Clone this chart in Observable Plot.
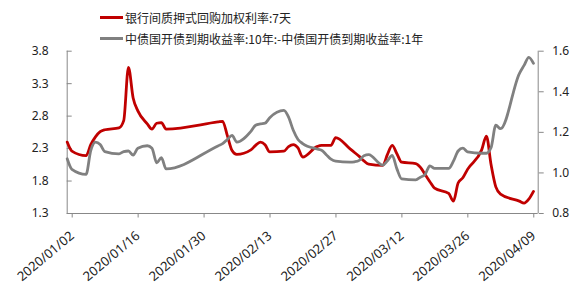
<!DOCTYPE html>
<html><head><meta charset="utf-8">
<script src="https://cdn.jsdelivr.net/npm/d3@7"></script>
<script src="https://cdn.jsdelivr.net/npm/@observablehq/plot@0.6"></script>
<style>
body{margin:0;background:#fff;}
#legend{position:relative;height:34px;width:576px;font-family:"Noto Sans CJK SC","Noto Sans",sans-serif;}
#chart{position:relative;}
#chart svg{display:block;}
.item{position:absolute;left:100px;height:18px;display:flex;align-items:center;font-size:12px;color:#222;white-space:nowrap;z-index:2;}
.sw{width:23px;height:3px;margin-right:2px;}
</style></head><body>
<div id="legend"></div>
<div id="chart"></div>
<script>
const seriesNames = ["银行间质押式回购加权利率:7天", "中债国开债到期收益率:10年:-中债国开债到期收益率:1年"];
const seriesColors = ["#C00000", "#808080"];
const dates = [
"2020-01-02","2020-01-03","2020-01-06","2020-01-07","2020-01-08","2020-01-09","2020-01-10",
"2020-01-13","2020-01-14","2020-01-15","2020-01-16","2020-01-17","2020-01-19","2020-01-20","2020-01-21","2020-01-22","2020-01-23",
"2020-02-03","2020-02-04","2020-02-05","2020-02-06","2020-02-07",
"2020-02-10","2020-02-11","2020-02-12","2020-02-13","2020-02-14",
"2020-02-17","2020-02-18","2020-02-19","2020-02-20","2020-02-21",
"2020-02-24","2020-02-25","2020-02-26","2020-02-27","2020-02-28",
"2020-03-02","2020-03-03","2020-03-04","2020-03-05","2020-03-06",
"2020-03-09","2020-03-10","2020-03-11","2020-03-12","2020-03-13",
"2020-03-16","2020-03-17","2020-03-18","2020-03-19","2020-03-20",
"2020-03-23","2020-03-24","2020-03-25","2020-03-26","2020-03-27",
"2020-03-30","2020-03-31","2020-04-01","2020-04-02","2020-04-03",
"2020-04-07","2020-04-08","2020-04-09","2020-04-10"];
const repo7d = [
2.40,2.26,2.19,2.36,2.48,2.56,2.59,
2.62,2.73,3.55,3.08,2.88,2.68,2.60,2.69,2.70,2.60,
2.71,2.72,2.50,2.27,2.21,
2.28,2.35,2.40,2.36,2.25,
2.26,2.33,2.36,2.31,2.17,
2.33,2.35,2.35,2.35,2.47,
2.30,2.24,2.18,2.11,2.06,
2.04,2.21,2.35,2.22,2.09,
2.07,2.01,1.90,1.79,1.69,
1.61,1.49,1.77,1.85,1.98,
2.28,2.49,2.05,1.71,1.60,
1.49,1.46,1.52,1.64];
const spread10y1y = [
1.070,1.018,0.993,1.110,1.152,1.140,1.105,
1.094,1.105,1.108,1.088,1.122,1.134,1.122,1.050,1.075,1.020,
1.133,1.144,1.165,1.185,1.152,
1.205,1.235,1.242,1.245,1.272,
1.308,1.275,1.210,1.165,1.145,
1.118,1.112,1.090,1.068,1.058,
1.053,1.055,1.062,1.085,1.090,
1.038,1.060,1.086,1.020,0.971,
0.966,0.979,0.993,1.035,1.022,
1.022,1.058,1.108,1.122,1.104,
1.097,1.097,1.125,1.235,1.218,
1.490,1.530,1.570,1.540];
const xTicks = ["2020/01/02","2020/01/16","2020/01/30","2020/02/13","2020/02/27","2020/03/12","2020/03/26","2020/04/09"];
const xDomain = ["2020/01/02","2020/04/11"];
const leftTicks = [1.3,1.8,2.3,2.8,3.3,3.8];
const rightTicks = [0.8,1.0,1.2,1.4,1.6];

// legend
const leg = document.getElementById("legend");
const legendTops = [8.7, 29.3];
seriesNames.forEach((n,i)=>{
  const it = document.createElement("div");
  it.className="item"; it.style.top = legendTops[i]+"px";
  const sw = document.createElement("span"); sw.className="sw"; sw.style.background = seriesColors[i];
  const tx = document.createElement("span"); tx.textContent = n;
  it.appendChild(sw); it.appendChild(tx); leg.appendChild(it);
});

const parse = d3.utcParse("%Y-%m-%d");
const parseT = d3.utcParse("%Y/%m/%d");
const rows = dates.map((d,i)=>({date: parse(d), repo: repo7d[i], spread: spread10y1y[i]}));
const [l0,l1] = [leftTicks[0], leftTicks[leftTicks.length-1]];
const [r0,r1] = [rightTicks[0], rightTicks[rightTicks.length-1]];
const toLeft = v => l0 + (v - r0) * (l1 - l0) / (r1 - r0);
const dom = xDomain.map(parseT);
const axisColor = "#888888";

const chart = Plot.plot({
  width: 576, height: 254,
  marginTop: 16.7, marginBottom: 75, marginLeft: 66.7, marginRight: 38.3,
  style: {fontFamily: "'Noto Sans', sans-serif", fontSize: "12px", background: "transparent", color: "#222"},
  x: {type: "utc", domain: dom},
  y: {domain: [l0, l1]},
  marks: [
    Plot.ruleY([l0], {stroke: axisColor}),
    Plot.ruleX([dom[0]], {stroke: axisColor}),
    Plot.ruleX([dom[1]], {stroke: axisColor}),
    Plot.axisY({anchor: "left", ticks: leftTicks, tickFormat: d3.format(".1f"), tickSize: -5, tickPadding: 23.5, stroke: axisColor, fill: "#222", label: null}),
    Plot.axisY({anchor: "right", ticks: rightTicks.map(toLeft), tickFormat: (d) => d3.format(".1f")(r0 + (d - l0) * (r1 - r0) / (l1 - l0)), tickSize: 5, tickPadding: 9, stroke: axisColor, fill: "#222", label: null}),
    Plot.axisX({ticks: xTicks.map(parseT), tickFormat: d3.utcFormat("%Y/%m/%d"), tickSize: 4.5, tickPadding: 16, tickRotate: -40, dx: 5, fontSize: 13, stroke: axisColor, fill: "#222", label: null}),
    Plot.line(rows, {x: "date", y: "repo", stroke: seriesColors[0], strokeWidth: 2.8, curve: "monotone-x"}),
    Plot.line(rows, {x: "date", y: d => toLeft(d.spread), stroke: seriesColors[1], strokeWidth: 2.8, curve: "monotone-x"})
  ]
});
document.getElementById("chart").appendChild(chart);
</script>
</body></html>
